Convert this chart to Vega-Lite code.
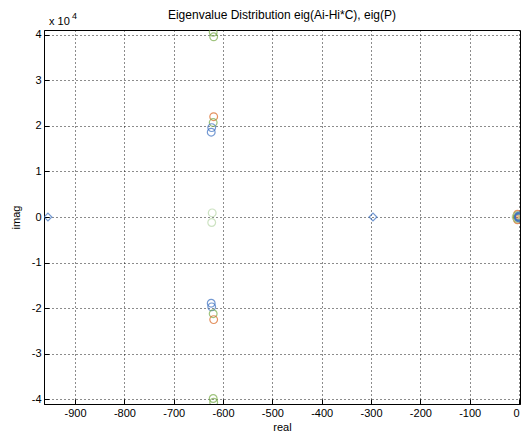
{
  "$schema": "https://vega.github.io/schema/vega-lite/v6.json",
  "width": 476,
  "height": 374,
  "autosize": "none",
  "padding": {"left": 44, "top": 30, "right": 3, "bottom": 37},
  "background": "white",
  "config": {
    "font": "Liberation Sans",
    "view": {"stroke": "black", "strokeWidth": 1},
    "axis": {
      "labelFont": "Liberation Sans", "labelFontSize": 11, "labelColor": "black",
      "titleFont": "Liberation Sans", "titleFontSize": 11, "titleFontWeight": "normal", "titleColor": "black",
      "domainColor": "black", "tickColor": "black", "tickSize": -5,
      "grid": true, "gridColor": "black", "gridDash": [1, 3], "gridOpacity": 0.9, "gridWidth": 1,
      "labelPadding": 8
    }
  },
  "title": {"text": "Eigenvalue Distribution eig(Ai-Hi*C), eig(P)", "fontSize": 12, "fontWeight": "normal", "font": "Liberation Sans", "offset": 3, "dy": 13, "color": "black"},
  "datasets": {
    "pts": [
      {"re": -620, "im": 40500, "s": "green", "m": "circle"},
      {"re": -619, "im": 39500, "s": "green", "m": "circle"},
      {"re": -619, "im": 22000, "s": "orange", "m": "circle"},
      {"re": -620, "im": 20700, "s": "green", "m": "circle"},
      {"re": -623, "im": 19600, "s": "blue", "m": "circle"},
      {"re": -624, "im": 18600, "s": "blue", "m": "circle"},
      {"re": -622, "im": 900, "s": "lightgreen", "m": "circle"},
      {"re": -623, "im": -1200, "s": "lightgreen", "m": "circle"},
      {"re": -624, "im": -18900, "s": "blue", "m": "circle"},
      {"re": -623, "im": -19700, "s": "blue", "m": "circle"},
      {"re": -620, "im": -21200, "s": "green", "m": "circle"},
      {"re": -619, "im": -22500, "s": "orange", "m": "circle"},
      {"re": -620, "im": -39800, "s": "green", "m": "circle"},
      {"re": -619, "im": -40600, "s": "green", "m": "circle"},
      {"re": -3, "im": 600, "s": "orange", "m": "circle"},
      {"re": -3, "im": -600, "s": "orange", "m": "circle"},
      {"re": -5, "im": 0, "s": "orange", "m": "circle"},
      {"re": -4, "im": 300, "s": "green", "m": "circle"},
      {"re": -4, "im": -300, "s": "green", "m": "circle"},
      {"re": -6, "im": 0, "s": "lightgreen", "m": "circle"},
      {"re": -1, "im": 0, "s": "blue", "m": "circle"},
      {"re": -0.5, "im": 200, "s": "blue", "m": "circle"},
      {"re": -0.5, "im": -200, "s": "blue", "m": "circle"},
      {"re": 0, "im": 0, "s": "blue", "m": "circle"},
      {"re": -955, "im": 0, "s": "blue", "m": "diamond"},
      {"re": -296, "im": 0, "s": "blue", "m": "diamond"}
    ]
  },
  "layer": [
    {
      "data": {"name": "pts"},
      "mark": {"type": "point", "filled": false, "strokeWidth": 1.2, "size": 60, "clip": true},
      "encoding": {
        "x": {"field": "re", "type": "quantitative", "title": "real",
              "scale": {"domain": [-963, 2], "nice": false, "zero": false},
              "axis": {"values": [-900, -800, -700, -600, -500, -400, -300, -200, -100, 0], "labelExpr": "toString(datum.value)", "titlePadding": 3}},
        "y": {"field": "im", "type": "quantitative", "title": "imag",
              "scale": {"domain": [-41000, 41000], "nice": false},
              "axis": {"values": [-40000, -30000, -20000, -10000, 0, 10000, 20000, 30000, 40000], "labelExpr": "toString(datum.value/10000)", "titlePadding": 10}},
        "color": {"field": "s", "type": "nominal", "legend": null,
                  "scale": {"domain": ["blue", "orange", "green", "lightgreen"], "range": ["#3a6fc0", "#d9651f", "#78ac48", "#b9d8aa"]}},
        "shape": {"field": "m", "type": "nominal", "legend": null,
                  "scale": {"domain": ["circle", "diamond"], "range": ["circle", "diamond"]}}
      }
    },
    {
      "data": {"values": [{"re": -963, "im": 41000}]},
      "mark": {"type": "text", "align": "left", "baseline": "bottom", "dx": 5, "dy": -3, "fontSize": 11, "font": "Liberation Sans", "text": "x 10"},
      "encoding": {"x": {"field": "re", "type": "quantitative"}, "y": {"field": "im", "type": "quantitative"}}
    },
    {
      "data": {"values": [{"re": -963, "im": 41000}]},
      "mark": {"type": "text", "align": "left", "baseline": "bottom", "dx": 28, "dy": -9, "fontSize": 9, "font": "Liberation Sans", "text": "4"},
      "encoding": {"x": {"field": "re", "type": "quantitative"}, "y": {"field": "im", "type": "quantitative"}}
    }
  ]
}
